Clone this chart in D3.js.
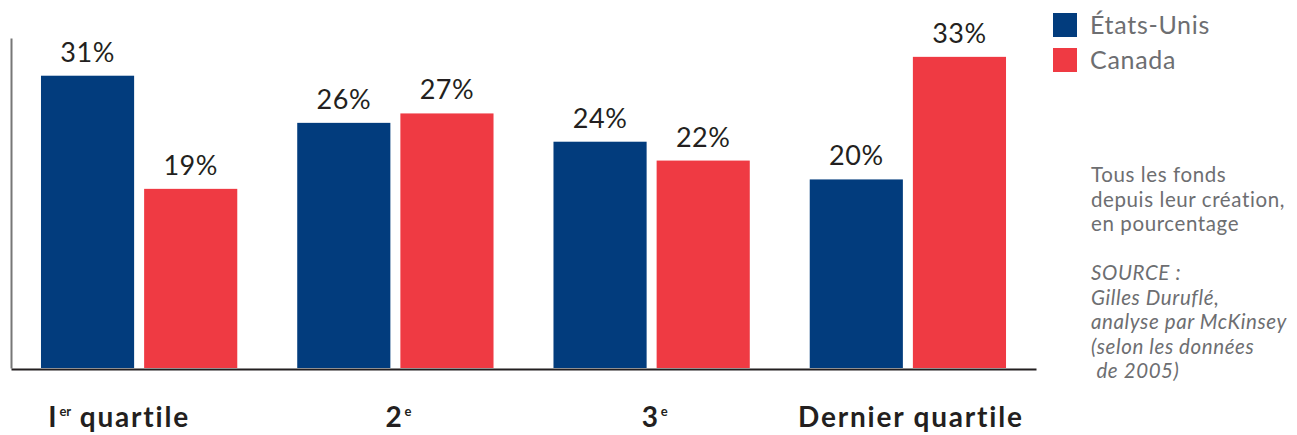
<!DOCTYPE html>
<html>
<head>
<meta charset="utf-8">
<script src="https://cdn.jsdelivr.net/npm/d3@7"></script>
<style>
  html, body { margin: 0; padding: 0; background: #fff; }
  svg { display: block; }
  text { font-family: Lato, "Open Sans", sans-serif; }
</style>
</head>
<body>
<svg id="chart" width="1297" height="435"></svg>
<script>
const categories = ["1er quartile", "2e", "3e", "Dernier quartile"];
const catMain = ["I", "2", "3", "Dernier quartile"];
const catSup = ["er", "e", "e", ""];
const catTail = [" quartile", "", "", ""];
const seriesNames = ["États-Unis", "Canada"];
const usValues = [31, 26, 24, 20];
const caValues = [19, 27, 22, 33];
const seriesColors = ["#023c7d", "#ef3a43"];
const noteLines = ["Tous les fonds", "depuis leur création,", "en pourcentage"];
const sourceLines = ["SOURCE :", "Gilles Duruflé,", "analyse par McKinsey", "(selon les données", "\u00a0de 2005)"];

(function () {
const svg = d3.select("#chart");
const plotLeft = 11, plotRight = 1036, plotBottom = 368, plotTop = 38;

const x0 = d3.scaleBand().domain(categories).range([plotLeft, plotRight]).padding(0);
const bw = x0.bandwidth();
const x1 = d3.scaleBand().domain(seriesNames)
  .range([bw * 0.117, bw * 0.883]).paddingInner(0.097).paddingOuter(0);
const y = d3.scaleLinear().domain([0, 35]).range([plotBottom, plotTop]);

const data = categories.map((c, i) => ({
  cat: c, idx: i,
  vals: [{s: seriesNames[0], v: usValues[i], k: 0}, {s: seriesNames[1], v: caValues[i], k: 1}]
}));

const groups = svg.selectAll("g.grp").data(data).enter().append("g")
  .attr("class", "grp")
  .attr("transform", d => `translate(${x0(d.cat)},0)`);

groups.selectAll("rect").data(d => d.vals).enter().append("rect")
  .attr("x", d => x1(d.s))
  .attr("width", x1.bandwidth())
  .attr("y", d => y(d.v))
  .attr("height", d => y(0) - y(d.v))
  .attr("fill", d => seriesColors[d.k]);

groups.selectAll("text.val").data(d => d.vals).enter().append("text")
  .attr("class", "val")
  .attr("x", d => x1(d.s) + x1.bandwidth() / 2)
  .attr("y", d => y(d.v) - 14)
  .attr("text-anchor", "middle")
  .attr("font-size", 27)
  .attr("letter-spacing", 0.5)
  .attr("fill", "#231f20")
  .text(d => d.v + "%");

svg.append("g")
  .attr("transform", `translate(${plotLeft},0)`)
  .call(d3.axisLeft(y).ticks(0).tickSize(0).tickFormat(""))
  .call(g => g.select(".domain").attr("stroke", "#777").attr("stroke-width", 2));

svg.append("g")
  .attr("transform", `translate(0,${plotBottom + 1})`)
  .call(d3.axisBottom(x0).tickSize(0).tickFormat(""))
  .call(g => g.select(".domain").attr("stroke", "#231f20").attr("stroke-width", 2));

const lab = svg.selectAll("text.cat").data(data).enter().append("text")
  .attr("class", "cat")
  .attr("x", d => x0(d.cat) + bw / 2 + (d.idx === 0 ? -20 : 3))
  .attr("y", 427)
  .attr("text-anchor", "middle")
  .attr("font-size", 28)
  .attr("letter-spacing", 1.8)
  .attr("font-weight", "bold")
  .attr("fill", "#231f20");
lab.append("tspan").text(d => catMain[d.idx]);
lab.filter(d => catSup[d.idx]).append("tspan")
  .attr("font-size", 13).attr("letter-spacing", 0).attr("dy", -11).attr("dx", 1)
  .text(d => catSup[d.idx]);
lab.filter(d => catTail[d.idx]).append("tspan")
  .attr("dy", 11)
  .text(d => catTail[d.idx]);

const leg = svg.selectAll("g.leg").data(seriesNames).enter().append("g")
  .attr("class", "leg")
  .attr("transform", (d, i) => `translate(1053,${13 + i * 35})`);
leg.append("rect").attr("width", 24).attr("height", 24).attr("fill", (d, i) => seriesColors[i]);
leg.append("text").attr("x", 37).attr("y", 21).attr("font-size", 25).attr("letter-spacing", 0.7)
  .attr("fill", "#6d6e71").text(d => d);

const notes = svg.append("text").attr("x", 1091).attr("font-size", 20.5).attr("letter-spacing", 0.6).attr("fill", "#6d6e71");
noteLines.forEach((t, i) => notes.append("tspan").attr("x", 1091).attr("y", 182 + i * 24.5).text(t));
const src = svg.append("text").attr("x", 1091).attr("font-size", 20.5).attr("letter-spacing", 0.6).attr("fill", "#6d6e71").attr("font-style", "italic");
sourceLines.forEach((t, i) => src.append("tspan").attr("x", 1091).attr("y", 280 + i * 24.5).text(t));
})();
</script>
</body>
</html>
